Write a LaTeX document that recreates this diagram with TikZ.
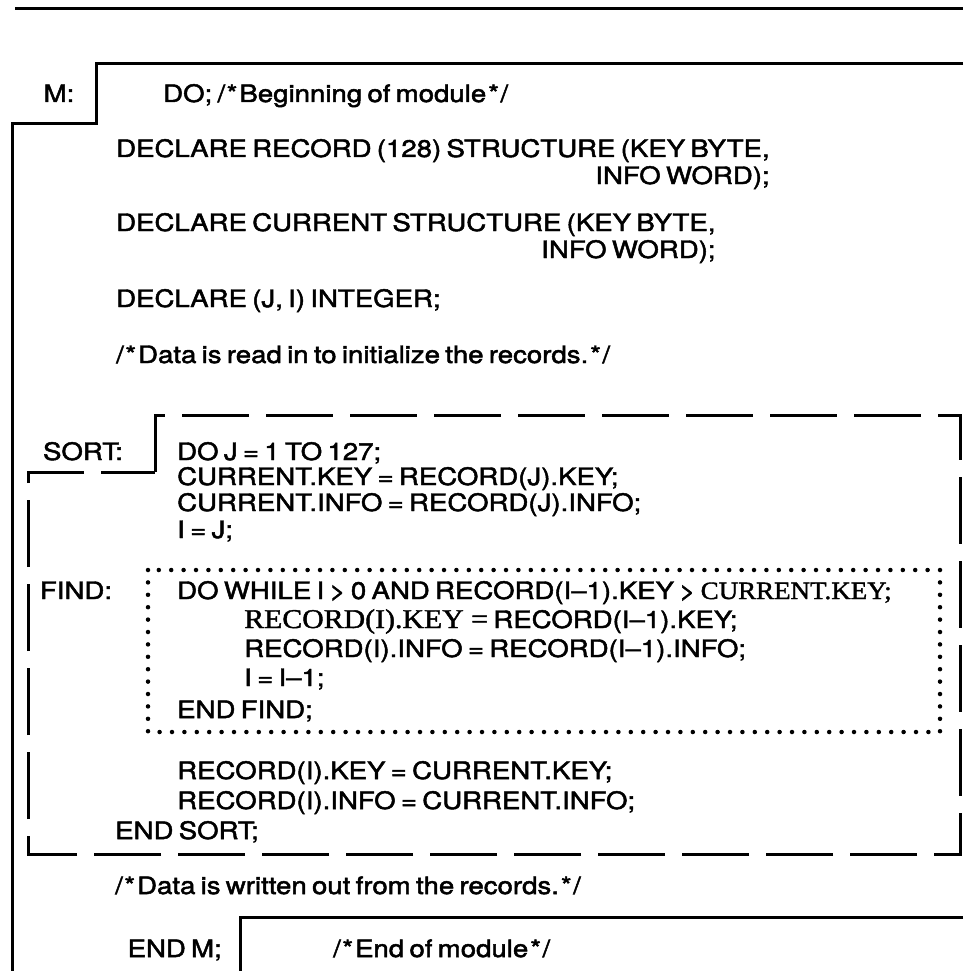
\documentclass[tikz,border=0pt]{standalone}
\usepackage{fontspec}
\setmainfont{TeX Gyre Heros}
\newfontfamily\codefam{TeX Gyre Heros}[FakeStretch=1.15,FakeBold=2]
\newfontfamily\serifcode{Liberation Serif}[Scale=1.04,FakeStretch=1.08,FakeBold=1.5]
\newfontfamily\serifbig{Liberation Serif}[Scale=1.13,FakeStretch=1.1,FakeBold=1.5]
\newcommand\codefont{\codefam\fontsize{24}{29}\selectfont\fontdimen2\font=0.22em\relax}
\newcommand\cmtopen{/\kern1.5pt*\kern2pt}
\newcommand\cmtclose{\kern2pt*\kern1.5pt/}
\begin{document}
\begin{tikzpicture}[x=1pt,y=-1pt,
  code/.style={anchor=base west, inner sep=0pt, font=\codefont},
  coder/.style={anchor=base east, inner sep=0pt, font=\codefont},
  lbl/.style={anchor=base, inner sep=0pt, font=\codefont},
  solidline/.style={line width=3pt},
  dashline/.style={line width=3pt, dash pattern=on 67pt off 17pt},
  dotline/.style={line width=4.5pt, line cap=round, dash pattern=on 0pt off 12.4pt}]
\fill[white] (0,0) rectangle (963,971);
\useasboundingbox (0,0) rectangle (963,971);
% top rule
\draw[solidline] (15,9) -- (963,9);
% module M outline
\draw[solidline] (963,64) -- (96,64) -- (96,124) -- (12,124) -- (12,971);
% END M box
\draw[solidline] (963,917) -- (240,917) -- (240,971);
% SORT dashed box
\draw[dashline] (155,472) -- (155,415) -- (960,415) -- (960,854) -- (28,854) -- (28,472) -- cycle;
% FIND dotted box
\draw[dotline] (148,570) rectangle (940,732);

\node[lbl] (mlbl) at (59,102) {M:};
\node[code] (l0) at (163,102) {DO; \cmtopen Beginning of module\cmtclose};
\node[code] (l1) at (116,157) {DECLARE RECORD (128) STRUCTURE (KEY BYTE,};
\path (l1.base east) ++(0,27) node[coder] (l1b) {INFO WORD);};
\node[code] (l2) at (116,231) {DECLARE CURRENT STRUCTURE (KEY BYTE,};
\path (l2.base east) ++(0,27) node[coder] (l2b) {INFO WORD);};
\node[code] (l3) at (116,307) {DECLARE (J, I) INTEGER;};
\node[code] (l4) at (116,363) {\cmtopen Data is read in to initialize the records.\cmtclose};
\node[lbl] (sortlbl) at (83,460) {SORT:};
\node[code] (s1) at (177,460) {DO J = 1 TO 127;};
\node[code] (s2) at (177,485) {CURRENT.KEY = RECORD(J).KEY;};
\node[code] (s3) at (177,511) {CURRENT.INFO = RECORD(J).INFO;};
\node[code] (s4) at (177,538) {I = J;};
\node[lbl] (findlbl) at (76,599) {FIND:};
\node[code] (f1) at (177,599) {DO WHILE I > 0 AND RECORD(I–1).KEY > {\serifcode CURRENT.KEY;}};
\node[code] (f2) at (244,628) {{\serifbig RECORD(I).KEY =} RECORD(I–1).KEY;};
\node[code] (f3) at (244,657) {RECORD(I).INFO = RECORD(I–1).INFO;};
\node[code] (f4) at (244,686) {I = I–1;};
\node[code] (f5) at (177,718) {END FIND;};
\node[code] (s5) at (177,779) {RECORD(I).KEY = CURRENT.KEY;};
\node[code] (s6) at (177,809) {RECORD(I).INFO = CURRENT.INFO;};
\node[code] (s7) at (115,839) {END SORT;};
\node[code] (l5) at (115,894) {\cmtopen Data is written out from the records.\cmtclose};
\node[coder] (endm) at (222,957) {END M;};
\node[code] (endc) at (333,957) {\cmtopen End of module\cmtclose};
\end{tikzpicture}
\end{document}
